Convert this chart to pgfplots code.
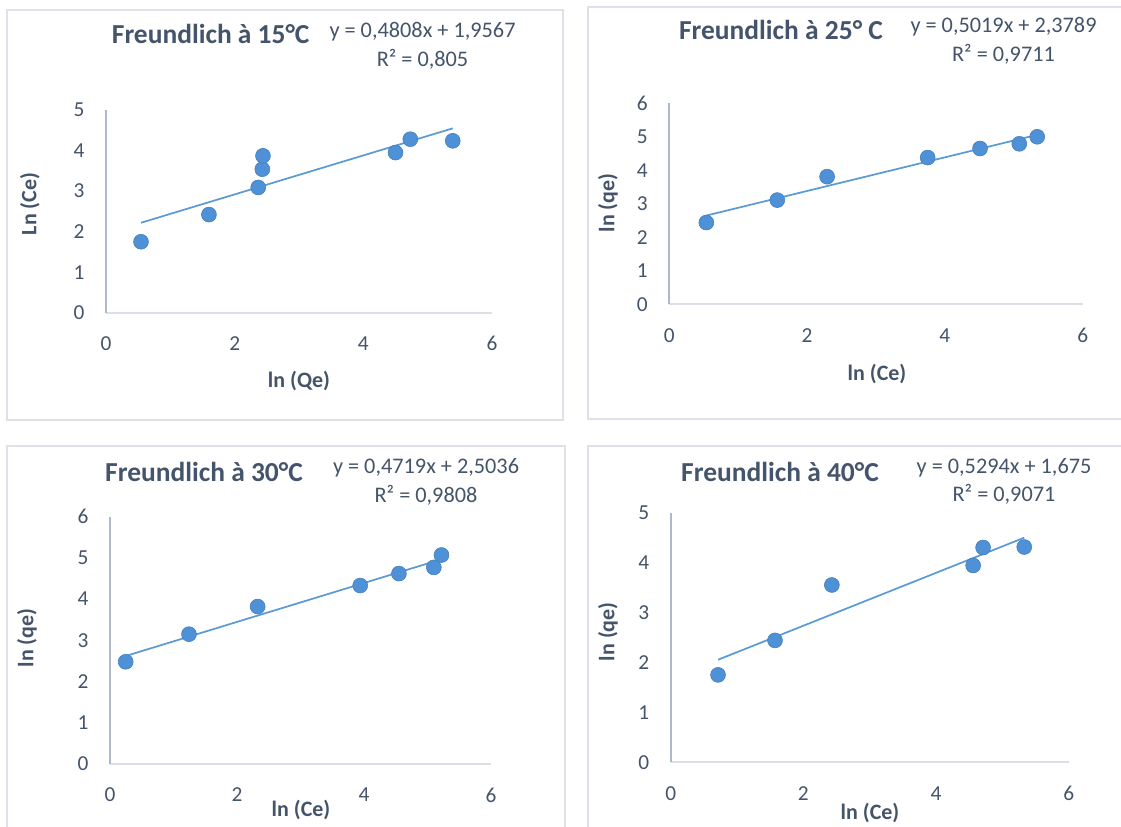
\documentclass[border=0pt]{standalone}
\usepackage{pgfplots}
\pgfplotsset{compat=1.18}
\usepackage{fontspec}
\setmainfont{Carlito}

\definecolor{txt}{HTML}{44546A}
\definecolor{mk}{HTML}{4F91D6}
\definecolor{trend}{HTML}{5B9BD5}
\definecolor{yline}{HTML}{ADB9CA}
\definecolor{xline}{HTML}{DCE0E6}
\definecolor{frame}{HTML}{DEE2E8}

% ln(Ce) / ln(qe) pairs for each temperature
\pgfplotstableread{
x y
0.544 1.75
1.60 2.42
2.366 3.09
2.43 3.54
2.44 3.87
4.50 3.95
4.73 4.28
5.39 4.24
}\tquinze
\pgfplotstableread{
x y
0.537 2.44
1.567 3.11
2.29 3.81
3.75 4.38
4.51 4.65
5.08 4.79
5.34 5.00
}\tvingtcinq
\pgfplotstableread{
x y
0.247 2.48
1.244 3.15
2.325 3.82
3.94 4.33
4.55 4.62
5.10 4.77
5.22 5.07
}\ttrente
\pgfplotstableread{
x y
0.714 1.75
1.573 2.44
2.43 3.55
4.56 3.94
4.71 4.30
5.33 4.31
}\tquarante

\pgfplotsset{
  freund/.style={
    scale only axis,
    anchor=south west,
    xmin=0, xmax=6, ymin=0,
    xtick={0,2,4,6},
    ytick distance=1,
    axis x line*=bottom,
    axis y line*=left,
    x axis line style={-, draw=xline, line width=1.5pt},
    y axis line style={-, draw=yline, line width=1.5pt},
    major tick length=0pt,
    tick style={draw=none},
    /pgf/number format/assume math mode=true,
    ticklabel style={font=\fontsize{16}{18}\selectfont, text=txt, inner sep=0pt},
    yticklabel style={anchor=east, xshift=-16pt},
    xticklabel style={anchor=center, yshift=-23.2pt},
    clip=false,
  },
  pts/.style={only marks, mark=*, mark size=5.6pt,
    mark options={fill=mk, draw=mk!85!black, line width=0.4pt}},
  fit/.style={trend, line width=1.3pt, no marks},
}

\tikzset{
  ttl/.style={text=txt, font=\fontsize{20.6}{24}\selectfont\bfseries},
  eqf/.style={text=txt, align=center, font=\fontsize{16.7}{21.5}\selectfont},
  lab/.style={text=txt, font=\fontsize{16.5}{20}\selectfont\bfseries},
}

\begin{document}
\begin{tikzpicture}
\useasboundingbox (0,0) rectangle (840.75pt,-619.5pt);

\begin{scope}[x=0.75pt, y=-0.75pt]
  % panel frames
  \draw[frame, line width=1.3pt] (7,10) rectangle (563,420);
  \draw[frame, line width=1.3pt] (588,7) rectangle (1130,419);
  \draw[frame, line width=1.3pt] (7,446) rectangle (565,835);
  \draw[frame, line width=1.3pt] (588,446) rectangle (1130,835);

  % titles and fit equations
  \node[ttl] at (210.7,34) {Freundlich à 15°C};
  \node[eqf] at (422.5,45.5) {y = 0,4808x + 1,9567\\ R² = 0,805};
  \node[ttl] at (781,30) {Freundlich à 25° C};
  \node[eqf] at (1003.5,41) {y = 0,5019x + 2,3789\\ R² = 0,9711};
  \node[ttl] at (204,471.7) {Freundlich à 30°C};
  \node[eqf] at (426,481.7) {y = 0,4719x + 2,5036\\ R² = 0,9808};
  \node[ttl] at (780,471.7) {Freundlich à 40°C};
  \node[eqf] at (1004,481.4) {y = 0,5294x + 1,675\\ R² = 0,9071};

  % axis titles
  \node[lab] at (299,381) {ln (Qe)};
  \node[lab, rotate=90] at (30,204) {Ln (Ce)};
  \node[lab] at (877,374) {ln (Ce)};
  \node[lab, rotate=90] at (608,203) {ln (qe)};
  \node[lab] at (301,810) {ln (Ce)};
  \node[lab, rotate=90] at (27,638) {ln (qe)};
  \node[lab] at (870,812.7) {ln (Ce)};
  \node[lab, rotate=90] at (608,631.7) {ln (qe)};
\end{scope}

% 15 °C
\begin{axis}[freund, at={(79.5pt,-234.5pt)}, width=289.5pt, height=152pt, ymax=5]
  \addplot[fit] coordinates {(0.544,2.2183) (5.39,4.5482)};
  \addplot[pts] table[x=x,y=y] {\tquinze};
\end{axis}

% 25 °C
\begin{axis}[freund, at={(502pt,-228.2pt)}, width=310pt, height=150.75pt, ymax=6]
  \addplot[fit] coordinates {(0.537,2.6484) (5.34,5.0590)};
  \addplot[pts] table[x=x,y=y] {\tvingtcinq};
\end{axis}

% 30 °C
\begin{axis}[freund, at={(82.5pt,-573pt)}, width=285.75pt, height=185.5pt, ymax=6]
  \addplot[fit] coordinates {(0.247,2.6202) (5.22,4.9669)};
  \addplot[pts] table[x=x,y=y] {\ttrente};
\end{axis}

% 40 °C
\begin{axis}[freund, at={(503pt,-571.7pt)}, width=298.5pt, height=187.3pt, ymax=5]
  \addplot[fit] coordinates {(0.714,2.0530) (5.33,4.4967)};
  \addplot[pts] table[x=x,y=y] {\tquarante};
\end{axis}
\end{tikzpicture}
\end{document}
